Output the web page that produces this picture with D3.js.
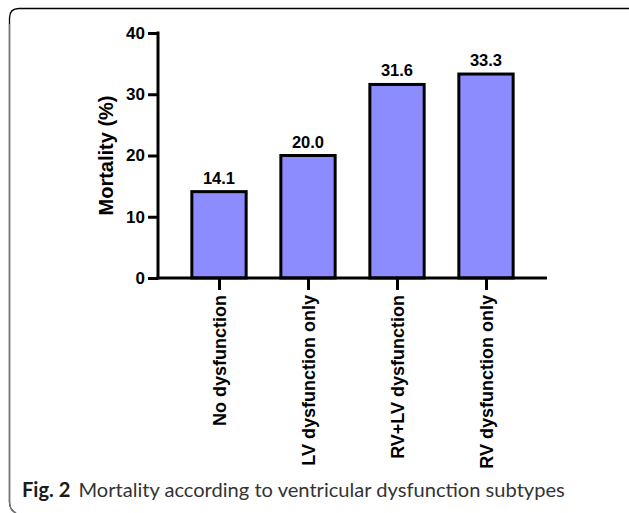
<!DOCTYPE html>
<html>
<head>
<meta charset="utf-8">
<script src="https://cdn.jsdelivr.net/npm/d3@7"></script>
<style>
  html, body { margin: 0; padding: 0; background: #fff; }
  svg { display: block; }
</style>
</head>
<body>
<svg id="chart" width="629" height="513"></svg>
<script>
const categories = ["No dysfunction", "LV dysfunction only", "RV+LV dysfunction", "RV dysfunction only"];
const mortality = [14.1, 20.0, 31.6, 33.3];
const valueLabels = ["14.1", "20.0", "31.6", "33.3"];
const yTicks = [0, 10, 20, 30, 40];
const yTitle = "Mortality (%)";
const captionBold = "Fig. 2";
const captionText = "Mortality according to ventricular dysfunction subtypes";

const svg = d3.select("#chart");
const FONT = "'Liberation Sans', Arial, sans-serif";

// frame
svg.append("path")
  .attr("d", "M629,8.5 H19 Q9.5,8.5 9.5,18 V502 Q9.5,510 16,513")
  .attr("fill", "none").attr("stroke", "#000").attr("stroke-width", 1.3);
svg.append("path")
  .attr("d", "M9.5,24 V502 Q9.5,510 16,513")
  .attr("fill", "none").attr("stroke", "#777").attr("stroke-width", 1.4);

const y = d3.scaleLinear().domain([0, 40]).range([278, 33]);
const x = d3.scalePoint().domain(categories).range([174.5, 530.5]).padding(0.5);
const barW = x.step() * 0.61;

// bars
svg.append("g").selectAll("rect").data(categories).join("rect")
  .attr("x", d => x(d) - barW / 2)
  .attr("y", (d, i) => y(mortality[i]))
  .attr("width", barW)
  .attr("height", (d, i) => y(0) - y(mortality[i]))
  .attr("fill", "#8c8cff")
  .attr("stroke", "#000")
  .attr("stroke-width", 3);

// value labels
svg.append("g").selectAll("text").data(categories).join("text")
  .attr("x", d => x(d))
  .attr("y", (d, i) => y(mortality[i]) - 8)
  .attr("text-anchor", "middle")
  .attr("font-family", FONT).attr("font-weight", "bold").attr("font-size", 16.5)
  .text((d, i) => valueLabels[i]);

// y axis
const yAxis = svg.append("g").attr("transform", "translate(158,0)")
  .call(d3.axisLeft(y).tickValues(yTicks).tickSize(10).tickPadding(3).tickSizeOuter(0));
yAxis.select(".domain").attr("stroke-width", 3).attr("d", `M0,${y(40) - 1.5}V${y(0) + 1.5}`);
yAxis.selectAll(".tick line").attr("stroke-width", 3);
yAxis.selectAll(".tick text").attr("font-family", FONT).attr("font-weight", "bold").attr("font-size", 17).attr("fill", "#000");

// x axis
const xAxis = svg.append("g").attr("transform", "translate(0,278)")
  .call(d3.axisBottom(x).tickSize(12).tickPadding(5).tickSizeOuter(0));
xAxis.select(".domain").attr("stroke-width", 3).attr("d", "M156.5,0H547");
xAxis.selectAll(".tick line").attr("stroke-width", 3);
xAxis.selectAll(".tick text")
  .attr("font-family", FONT).attr("font-weight", "bold").attr("font-size", 18).attr("fill", "#000")
  .attr("transform", "rotate(-90)")
  .attr("text-anchor", "end")
  .attr("x", -17).attr("y", 0).attr("dy", "0.35em");

// y title
svg.append("text")
  .attr("transform", `translate(113,${(y(0) + y(40)) / 2}) rotate(-90)`)
  .attr("text-anchor", "middle")
  .attr("font-family", FONT).attr("font-weight", "bold").attr("font-size", 20)
  .text(yTitle);

// caption
const cap = svg.append("text").attr("x", 22).attr("y", 497)
  .attr("font-family", "Lato, 'Open Sans', sans-serif").attr("font-size", 18);
cap.append("tspan").attr("font-weight", "bold").attr("fill", "#1a1a1a").text(captionBold);
cap.append("tspan").attr("dx", 8).attr("fill", "#333").text(captionText);
// fit caption width to reference
const w = cap.node().getComputedTextLength();
const target = 535;
cap.attr("font-size", 18 * target / w);
</script>
</body>
</html>
